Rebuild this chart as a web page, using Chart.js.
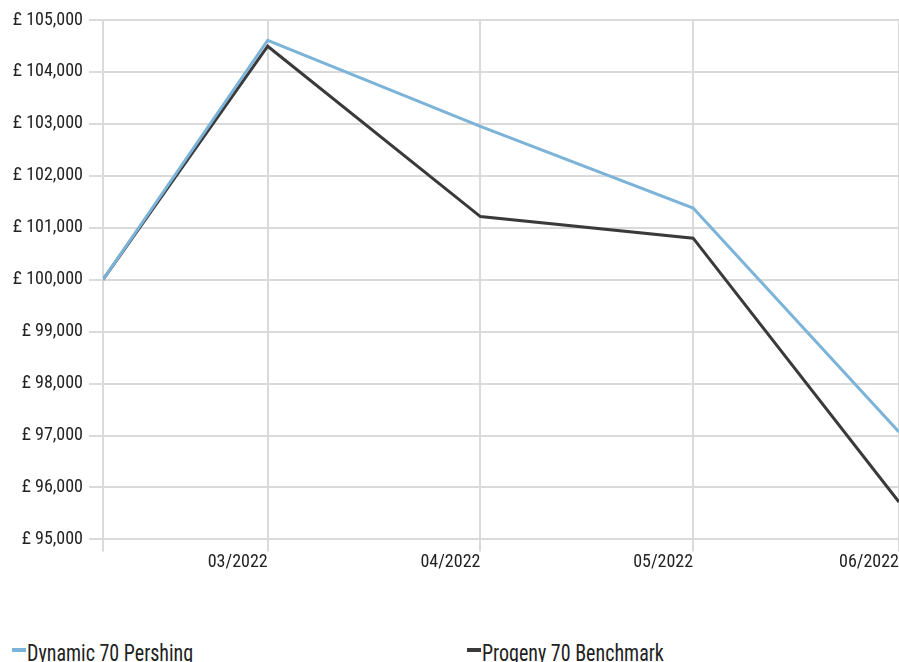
<!DOCTYPE html>
<html>
<head>
<meta charset="utf-8">
<script src="https://cdn.jsdelivr.net/npm/chart.js@4.4.1/dist/chart.umd.min.js"></script>
<style>
  html, body { margin: 0; padding: 0; background: #fff; }
  #wrap { position: relative; width: 899px; height: 662px; overflow: hidden; }
  #chart { position: absolute; left: 0; top: 0; }
  .legend-mark { position: absolute; top: 648px; width: 14px; height: 4px; }
  .legend-text { position: absolute; top: 644px; font: 20px "Roboto Condensed", sans-serif; line-height: 20px; color: #222; white-space: nowrap; transform: scaleY(1.15); transform-origin: 0 17px; }
</style>
</head>
<body>
<div id="wrap">
  <canvas id="chart" width="899" height="600"></canvas>
  <div class="legend-mark" style="left:12px; background:#7cb4d9"></div>
  <div class="legend-text" style="left:27px">Dynamic 70 Pershing</div>
  <div class="legend-mark" style="left:467px; background:#3a3a3a"></div>
  <div class="legend-text" style="left:482px">Progeny 70 Benchmark</div>
</div>
<script>
// --- Data ---
const dates = ['2022-02-05', '2022-03-01', '2022-04-01', '2022-05-02', '2022-06-01'];
const tickLabels = ['', '03/2022', '04/2022', '05/2022', '06/2022'];
const dynamic70 = [100000, 104610, 102950, 101380, 97070];
const progeny70 = [100000, 104495, 101215, 100800, 95720];

const FONT = '"Roboto Condensed", sans-serif';
const GRID = '#dadada';

// day numbers since first date (x positions come from the dates)
const t0 = Date.parse(dates[0]);
const days = dates.map(d => (Date.parse(d) - t0) / 86400000);

function toPoints(values) {
    return values.map((v, i) => ({ x: days[i], y: v }));
}

const ctx = document.getElementById('chart').getContext('2d');
new Chart(ctx, {
    type: 'line',
    data: {
        datasets: [{
            label: 'Dynamic 70 Pershing',
            data: toPoints(dynamic70),
            borderColor: '#7cb4d9',
            borderWidth: 3,
            pointRadius: 0,
            tension: 0
        }, {
            label: 'Progeny 70 Benchmark',
            data: toPoints(progeny70),
            borderColor: '#3a3a3a',
            borderWidth: 3,
            pointRadius: 0,
            tension: 0
        }]
    },
    options: {
        responsive: false,
        animation: false,
        layout: { padding: { top: 20, right: 0, bottom: 27, left: 0 } },
        plugins: {
            legend: { display: false },
            tooltip: { enabled: false }
        },
        scales: {
            x: {
                type: 'linear',
                min: days[0],
                max: days[days.length - 1],
                afterBuildTicks: function(scale) {
                    scale.ticks = days.map(v => ({ value: v }));
                },
                ticks: {
                    align: 'end',
                    maxRotation: 0,
                    autoSkip: false,
                    padding: 0,
                    color: '#222',
                    font: { family: FONT, size: 18 },
                    callback: function(value, index) { return tickLabels[index]; }
                },
                grid: { color: GRID, lineWidth: 2, tickLength: 12 },
                border: { display: false }
            },
            y: {
                min: 95000,
                max: 105000,
                afterFit: function(scale) { scale.width = 103; },
                ticks: {
                    stepSize: 1000,
                    padding: 6,
                    color: '#222',
                    font: { family: FONT, size: 18 },
                    callback: function(value) { return '£ ' + value.toLocaleString('en-GB'); }
                },
                grid: { color: GRID, lineWidth: 2, tickLength: 14 },
                border: { display: false }
            }
        }
    }
});
</script>
</body>
</html>
